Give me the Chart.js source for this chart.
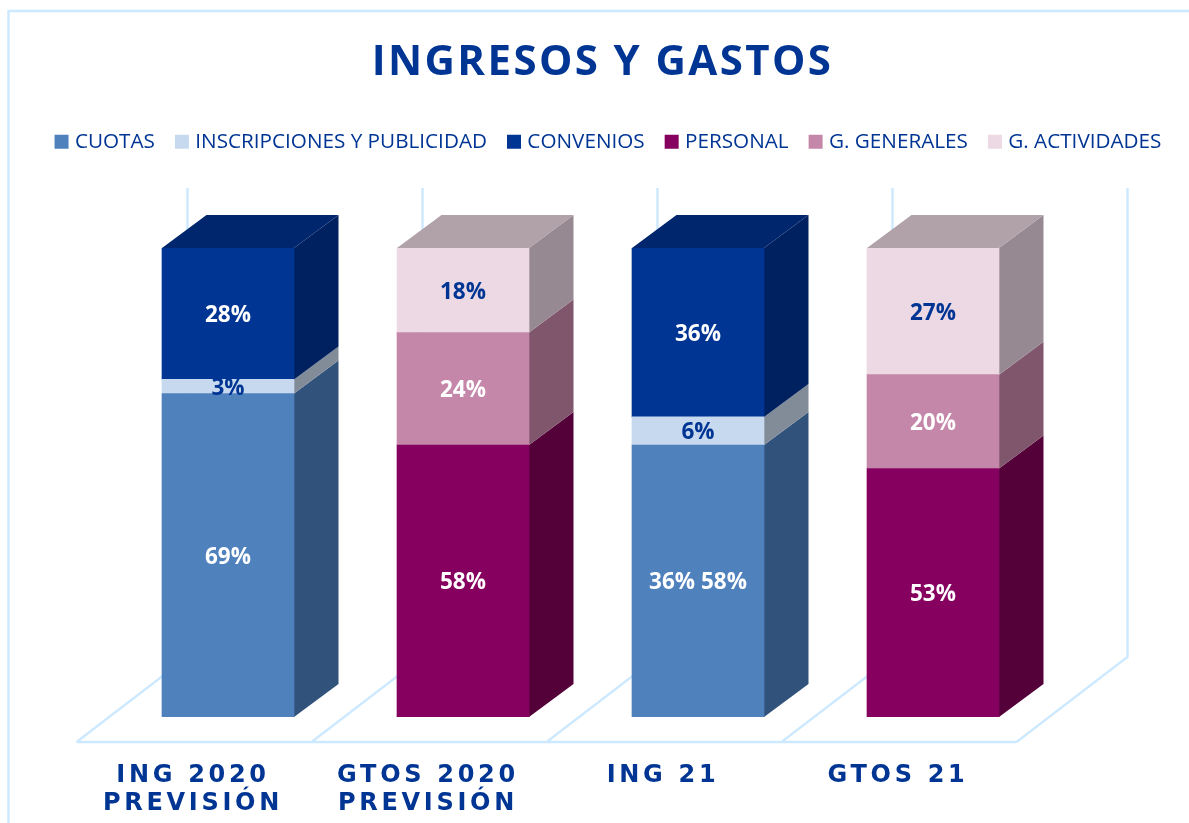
<!DOCTYPE html>
<html><head><meta charset="utf-8">
<style>html,body{margin:0;padding:0;background:#fff;overflow:hidden}#w{width:1189px;height:823px;position:relative}</style>
<script src="https://cdn.jsdelivr.net/npm/chart.js@4"></script>
</head><body><div id="w"><canvas id="c"></canvas></div>
<script>
const titleText = 'INGRESOS Y GASTOS';
const categories = [['ING 2020','PREVISIÓN'],['GTOS 2020','PREVISIÓN'],'ING 21','GTOS 21'];
const seriesNames = ['CUOTAS','INSCRIPCIONES Y PUBLICIDAD','CONVENIOS','PERSONAL','G. GENERALES','G. ACTIVIDADES'];
const cuotas = [69,null,58,null];
const inscripciones = [3,null,6,null];
const convenios = [28,null,36,null];
const personal = [null,58,null,53];
const generales = [null,24,null,20];
const actividades = [null,18,null,27];
const seriesValues = [cuotas,inscripciones,convenios,personal,generales,actividades];
const seriesLabels = [
  ['69%',null,'36% 58%',null],['3%',null,'6%',null],['28%',null,'36%',null],
  [null,'58%',null,'53%'],[null,'24%',null,'20%'],[null,'18%',null,'27%']];
const frontColors = ['#4F81BD','#C6D9EE','#003594','#85005F','#C587A9','#ECD9E4'];
const sideColors  = ['#31527A','#828C99','#00215F','#540039','#80566C','#978992'];
const topColors   = ['#3B6190','#97A3B2','#00266D','#650048','#96677F','#B1A1A9'];
const labelColors = ['#FFFFFF','#003594','#FFFFFF','#FFFFFF','#FFFFFF','#003594'];
const BLUE='#003594', GRID='#CDE9FF';
const depthX=44.5, depthY=33;

const deco = {
  id:'deco',
  beforeDraw(chart){
    const c=chart.ctx, a=chart.chartArea;
    if(!chart.$wrapped){
      chart.$wrapped=true;
      const wrap=(o,name,ls,dx)=>{const f=o[name].bind(o);o[name]=function(...r){
        c.save();c.letterSpacing=ls;c.translate(dx,0);f(...r);c.restore();};};
      wrap(chart.titleBlock,'draw','2.4px',8);
      wrap(chart.legend,'draw','0px',15.5);
      wrap(chart.scales.x,'drawLabels','3.7px',0);
    }
    c.save();
    c.strokeStyle=GRID;c.lineWidth=2.4;
    c.beginPath();c.moveTo(8.5,823);c.lineTo(8.5,11);c.lineTo(1189,11);c.stroke();
    const cat=(a.right-a.left)/categories.length;
    const fx=-34,bx=77,fy=a.bottom+25,by=a.bottom-60,topY=188;
    c.beginPath();
    c.moveTo(a.left+fx,fy);c.lineTo(a.right+fx,fy);
    for(let i=0;i<=categories.length;i++){
      const px=a.left+i*cat;
      c.moveTo(px+fx,fy);c.lineTo(px+bx,by);c.lineTo(px+bx,topY);
    }
    c.stroke();c.restore();
  },
  beforeDatasetsDraw(chart){
    const c=chart.ctx;c.save();
    const face=(pts,col)=>{c.fillStyle=col;c.beginPath();pts.forEach((p,i)=>i?c.lineTo(p[0],p[1]):c.moveTo(p[0],p[1]));c.closePath();c.fill();};
    chart.data.datasets.forEach((ds,d)=>{
      chart.getDatasetMeta(d).data.forEach((b,i)=>{
        if(ds.data[i]==null)return;
        const r=b.x+b.width/2,l=b.x-b.width/2;
        face([[r,b.y],[r+depthX,b.y-depthY],[r+depthX,b.base-depthY],[r,b.base]],sideColors[d]);
        const isTop=!chart.data.datasets.some((o,k)=>k>d&&o.data[i]!=null);
        if(isTop)face([[l,b.y],[l+depthX,b.y-depthY],[r+depthX,b.y-depthY],[r,b.y]],topColors[d]);
      });
    });
    c.restore();
  },
  afterDatasetsDraw(chart){
    const c=chart.ctx;c.save();
    c.font='700 22.5px "Open Sans"';c.textAlign='center';c.textBaseline='middle';
    chart.data.datasets.forEach((ds,d)=>{
      chart.getDatasetMeta(d).data.forEach((b,i)=>{
        const t=seriesLabels[d][i];if(!t)return;
        c.fillStyle=labelColors[d];
        c.fillText(t,b.x,(b.y+b.base)/2+2);
      });
    });
    c.restore();
  }
};

new Chart(document.getElementById('c'),{
  type:'bar',
  data:{labels:categories,datasets:seriesNames.map((n,i)=>({
    label:n,data:seriesValues[i],backgroundColor:frontColors[i],borderWidth:0,barThickness:132,stack:'s'}))},
  plugins:[deco],
  options:{
    responsive:true,maintainAspectRatio:false,animation:false,
    layout:{padding:0},
    plugins:{
      tooltip:{enabled:false},
      title:{display:true,text:titleText,color:BLUE,font:{family:'"Open Sans"',size:42,weight:'700'},padding:{top:38,bottom:19}},
      legend:{display:true,position:'top',labels:{
        boxWidth:6,boxHeight:6,padding:24,color:BLUE,font:{family:'"Open Sans"',size:20.7},
        generateLabels(ch){return ch.data.datasets.map((ds,i)=>({text:ds.label,fillStyle:frontColors[i],strokeStyle:frontColors[i],lineWidth:8,datasetIndex:i,fontColor:BLUE}));}
      }}
    },
    scales:{
      x:{stacked:true,grid:{display:false},border:{display:false},afterFit(s){s.height=106;},
         ticks:{color:BLUE,font:{family:'"DejaVu Sans"',size:24,weight:'bold',lineHeight:1.17},padding:37,labelOffset:-35,maxRotation:0,autoSkip:false}},
      y:{stacked:true,min:0,max:100,grid:{display:false},border:{display:false},ticks:{display:false},afterFit(s){s.width=110.5;}},
      padR:{type:'linear',axis:'y',position:'right',display:true,grid:{display:false},border:{display:false},ticks:{display:false},afterFit(s){s.width=138.5;}},
      padT:{type:'linear',axis:'x',position:'top',display:true,grid:{display:false},border:{display:false},ticks:{display:false},afterFit(s){s.height=86;}}
    }
  }
});
</script></body></html>
